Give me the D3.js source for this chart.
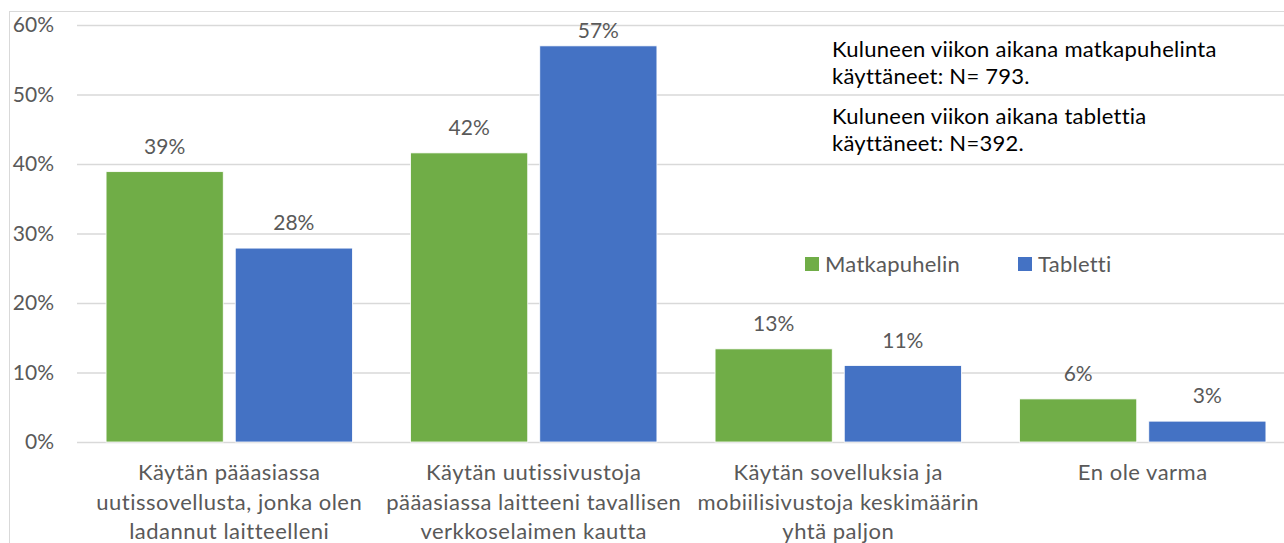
<!DOCTYPE html>
<html>
<head>
<meta charset="utf-8">
<script src="https://cdn.jsdelivr.net/npm/d3@7"></script>
<style>
  body { margin: 0; background: #fff; }
  svg text { font-family: Lato, "Open Sans", sans-serif; }
</style>
</head>
<body>
<svg id="chart" width="1284" height="543"></svg>
<script>
// Data
let categories = [
    'Käytän pääasiassa\nuutissovellusta, jonka olen\nladannut laitteelleni',
    'Käytän uutissivustoja\npääasiassa laitteeni tavallisen\nverkkoselaimen kautta',
    'Käytän sovelluksia ja\nmobiilisivustoja keskimäärin\nyhtä paljon',
    'En ole varma'
];
let seriesNames = ['Matkapuhelin', 'Tabletti'];
let mobileValues = [0.389, 0.416, 0.134, 0.062];
let tabletValues = [0.279, 0.570, 0.110, 0.030];
let yTicks = [0, 0.1, 0.2, 0.3, 0.4, 0.5, 0.6];
let notes = [
    ['Kuluneen viikon aikana matkapuhelinta', 'käyttäneet: N= 793.'],
    ['Kuluneen viikon aikana tablettia', 'käyttäneet: N=392.']
];

let colors = { 'Matkapuhelin': '#70AD47', 'Tabletti': '#4472C4' };
let textGrey = '#595959';
let gridGrey = '#D9D9D9';

let svg = d3.select('#chart');

// chart area border
svg.append('rect')
    .attr('x', 9.5).attr('y', 11.5)
    .attr('width', 1400).attr('height', 600)
    .attr('fill', 'none')
    .attr('stroke', gridGrey);

let plotLeft = 77, plotRight = 1295, plotTop = 25, plotBottom = 442;

let x = d3.scaleBand()
    .domain(categories)
    .range([plotLeft, plotRight]);

let xInner = d3.scaleBand()
    .domain(seriesNames)
    .range([0, x.bandwidth()])
    .paddingInner(0.093)
    .paddingOuter(0.225);

let y = d3.scaleLinear()
    .domain([0, 0.6])
    .range([plotBottom, plotTop]);

// Y axis with gridlines
let yAxis = svg.append('g')
    .attr('transform', 'translate(' + plotLeft + ',0)')
    .call(d3.axisLeft(y)
        .tickValues(yTicks)
        .tickFormat(d3.format('.0%'))
        .tickSize(-(plotRight - plotLeft))
        .tickPadding(23));

yAxis.select('.domain').remove();
yAxis.selectAll('.tick line')
    .attr('stroke', gridGrey)
    .attr('stroke-width', 1.3);
yAxis.selectAll('.tick text')
    .attr('fill', textGrey)
    .attr('font-size', 21);

// Bars
let rows = categories.map(function (c, i) {
    return [
        { cat: c, series: 'Matkapuhelin', value: mobileValues[i] },
        { cat: c, series: 'Tabletti', value: tabletValues[i] }
    ];
});

let groups = svg.selectAll('.group')
    .data(rows)
    .join('g')
    .attr('class', 'group')
    .attr('transform', function (d) { return 'translate(' + x(d[0].cat) + ',0)'; });

groups.selectAll('rect')
    .data(function (d) { return d; })
    .join('rect')
    .attr('x', function (d) { return xInner(d.series); })
    .attr('y', function (d) { return y(d.value); })
    .attr('width', xInner.bandwidth())
    .attr('height', function (d) { return y(0) - y(d.value); })
    .attr('fill', function (d) { return colors[d.series]; })
    .attr('stroke', '#fff')
    .attr('stroke-width', 0.8);

// Data labels (kept inside the plot area at the top)
groups.selectAll('.val')
    .data(function (d) { return d; })
    .join('text')
    .attr('class', 'val')
    .attr('x', function (d) { return xInner(d.series) + xInner.bandwidth() / 2; })
    .attr('y', function (d) { return Math.max(y(d.value) - 18, plotTop + 13); })
    .attr('text-anchor', 'middle')
    .attr('fill', textGrey)
    .attr('font-size', 21)
    .text(function (d) { return d3.format('.0%')(d.value); });

// Category labels
svg.selectAll('.cat')
    .data(categories)
    .join('text')
    .attr('class', 'cat')
    .attr('text-anchor', 'middle')
    .attr('fill', textGrey)
    .attr('font-size', 22)
    .attr('letter-spacing', 0.5)
    .each(function (d) {
        let lines = d.split('\n');
        let t = d3.select(this);
        lines.forEach(function (line, i) {
            t.append('tspan')
                .attr('x', x(d) + x.bandwidth() / 2)
                .attr('y', 480 + i * 29.5)
                .text(line);
        });
    });

// Notes
notes.forEach(function (note, j) {
    let t = svg.append('text')
        .attr('fill', '#000')
        .attr('font-size', 22)
        .attr('letter-spacing', 0.25);
    note.forEach(function (line, i) {
        t.append('tspan')
            .attr('x', 832)
            .attr('y', 57 + j * 67 + i * 27)
            .text(line);
    });
});

// Legend
let legend = svg.append('g');
let legendX = [805, 1018];
seriesNames.forEach(function (s, i) {
    legend.append('rect')
        .attr('x', legendX[i]).attr('y', 257)
        .attr('width', 14).attr('height', 14)
        .attr('fill', colors[s]);
    legend.append('text')
        .attr('x', legendX[i] + 20).attr('y', 264)
        .attr('dy', '0.35em')
        .attr('fill', textGrey)
        .attr('font-size', 22)
        .attr('letter-spacing', 0.25)
        .text(s);
});
</script>
</body>
</html>
